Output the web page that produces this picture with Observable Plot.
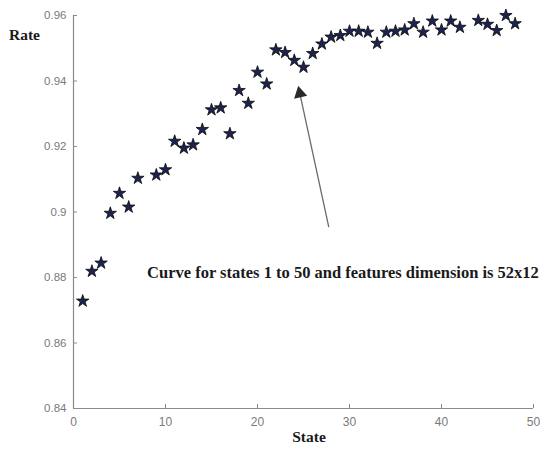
<!DOCTYPE html>
<html>
<head>
<meta charset="utf-8">
<script src="https://cdn.jsdelivr.net/npm/d3@7"></script>
<script src="https://cdn.jsdelivr.net/npm/@observablehq/plot@0.6"></script>
<style>
  html, body { margin: 0; padding: 0; background: #fff; }
  #chart svg { display: block; overflow: visible; }
</style>
</head>
<body>
<div id="chart"></div>
<script>
// Data
const states = [1,2,3,4,5,6,7,9,10,11,12,13,14,15,16,17,18,19,20,21,22,23,24,25,26,27,28,29,30,31,32,33,34,35,36,37,38,39,40,41,42,44,45,46,47,48];
const rates  = [0.8728,0.8819,0.8844,0.8996,0.9057,0.9015,0.9103,0.9113,0.9129,0.9216,0.9195,0.9205,0.9252,0.9312,0.9318,0.9239,0.9371,0.9332,0.9427,0.9391,0.9495,0.9487,0.9463,0.9442,0.9484,0.9513,0.9534,0.9539,0.9552,0.9552,0.9549,0.9515,0.9549,0.9552,0.9556,0.9575,0.9549,0.9583,0.9556,0.9583,0.9564,0.9585,0.9573,0.9554,0.9600,0.9575];
const xTicks = [0,10,20,30,40,50];
const yTicks = [0.84,0.86,0.88,0.90,0.92,0.94,0.96];
const yTickLabels = ["0.84","0.86","0.88","0.9","0.92","0.94","0.96"];
const annotationText = "Curve for states 1 to 50 and features dimension is 52x12";
const annotationAt = {x: 8, y: 0.8815};
const arrowFrom = {x: 27.75, y: 0.8954};
const arrowTo = {x: 24.6, y: 0.9362};

const points = states.map((s, i) => ({state: s, rate: rates[i]}));

const axisGray = "#8a8a8a";
const serif = "'Liberation Serif', 'Times New Roman', serif";

const plot = Plot.plot({
  width: 545,
  height: 449,
  marginLeft: 73,
  marginRight: 12,
  marginTop: 15,
  marginBottom: 41,
  style: {background: "#fff", fontFamily: "'Liberation Sans', Arial, sans-serif", overflow: "visible"},
  x: {domain: [0, 50], ticks: xTicks, label: null},
  y: {domain: [0.84, 0.96], ticks: yTicks, label: null},
  marks: [
    Plot.ruleX([0], {stroke: axisGray, strokeWidth: 1.2}),
    Plot.ruleY([0.84], {stroke: axisGray, strokeWidth: 1.2}),
    // inward tick marks (MATLAB style)
    Plot.ruleX(xTicks, {x: d => d, y1: 0.84, y2: 0.84, insetTop: -4, stroke: axisGray}),
    Plot.ruleY(yTicks, {y: d => d, x1: 0, x2: 0, insetRight: -4, stroke: axisGray}),
    Plot.axisX({ticks: xTicks, tickSize: 0, tickPadding: 9, fill: "#7a7a7a", fontSize: 12, tickFormat: d => String(d)}),
    Plot.axisY({ticks: yTicks, tickSize: 0, tickPadding: 7, fill: "#7a7a7a", fontSize: 11.5, tickFormat: (d, i) => yTickLabels[i]}),
    Plot.link([{}], {x1: () => arrowFrom.x, y1: () => arrowFrom.y, x2: () => arrowTo.x, y2: () => arrowTo.y, stroke: "#6a6a6a", strokeWidth: 1.3}),
    Plot.dot([arrowTo], {x: "x", y: "y", symbol: "triangle", r: 4, fill: "#2a2a2a", stroke: "#2a2a2a", rotate: -12.4}),
    Plot.dot(points, {x: "state", y: "rate", symbol: "star", r: 3.9, fill: "#1c2350", stroke: "#0a0a0a", strokeWidth: 0.8}),
    Plot.text([annotationText], {x: annotationAt.x, y: annotationAt.y, text: d => d, textAnchor: "start", fontFamily: serif, fontWeight: "bold", fontSize: 16.5, fill: "#1a1a1a"}),
  ]
});

const svg = d3.select(plot);
// Axis titles as real text, placed in the margins
svg.append("text").attr("x", 9).attr("y", 40).attr("text-anchor", "start").attr("font-family", serif).attr("font-weight", "bold").attr("font-size", 15.5).attr("fill", "#1a1a1a").text("Rate");
svg.append("text").attr("x", 309).attr("y", 442).attr("text-anchor", "middle").attr("font-family", serif).attr("font-weight", "bold").attr("font-size", 15.5).attr("fill", "#1a1a1a").text("State");

document.getElementById("chart").appendChild(plot);
</script>
</body>
</html>
